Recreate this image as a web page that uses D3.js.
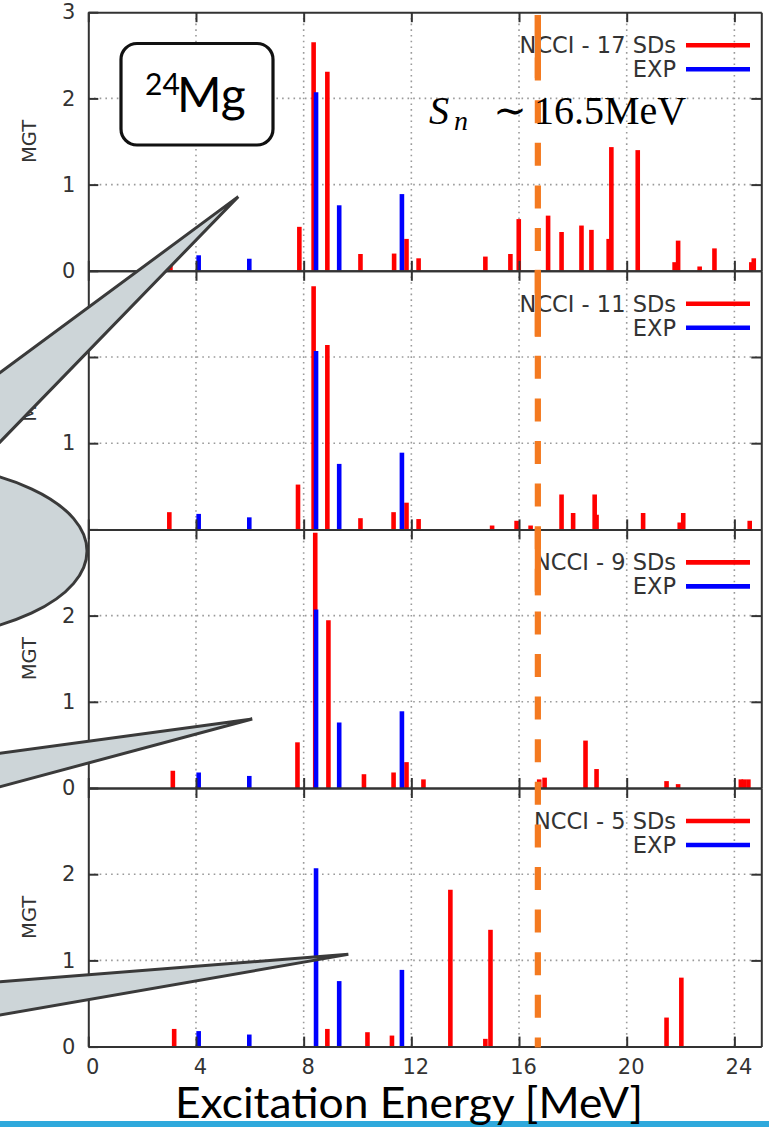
<!DOCTYPE html>
<html>
<head>
<meta charset="utf-8">
<script src="https://cdn.jsdelivr.net/npm/d3@7"></script>
<style>
  html, body { margin: 0; padding: 0; background: #ffffff; }
  svg { display: block; }
</style>
</head>
<body>
<svg id="chart" width="769" height="1127"></svg>
<script>
// ---- data -------------------------------------------------------------
const energyDomain = [0, 25];
const mgtDomain = [0, 3];
const energyTicks = [0, 4, 8, 12, 16, 20, 24];
const gridEnergies = [4, 8, 12, 16, 20, 24];
const gridMGT = [1, 2];

const seriesLabels = ["NCCI - 17 SDs", "NCCI - 11 SDs", "NCCI - 9 SDs", "NCCI - 5 SDs"];
const expLabel = "EXP";

// measured Gamow-Teller strengths
const expEnergy = [4.10, 5.98, 8.46, 9.32, 11.65];
const expMGT    = [0.18, 0.14, 2.07, 0.76, 0.89];

// NCCI with 17 Slater determinants
const ncci17Energy = [3.05, 7.84, 8.37, 8.88, 10.11, 11.36, 11.82, 12.27, 14.75, 15.68, 15.99,
                      17.08, 17.58, 18.32, 18.69, 19.33, 19.43, 20.41, 21.78, 21.91, 22.71,
                      23.26, 24.63, 24.72];
const ncci17MGT    = [0.20, 0.51, 2.65, 2.31, 0.195, 0.20, 0.37, 0.145, 0.165, 0.195, 0.60,
                      0.64, 0.45, 0.525, 0.475, 0.37, 1.435, 1.40, 0.10, 0.35, 0.05,
                      0.26, 0.10, 0.145];

// NCCI with 11 Slater determinants
const ncci11Energy = [3.01, 7.79, 8.37, 8.88, 10.11, 11.34, 11.82, 12.27, 15.00, 15.91, 16.43,
                      17.58, 18.01, 18.81, 18.88, 20.61, 21.97, 22.10, 24.57];
const ncci11MGT    = [0.20, 0.52, 2.82, 2.14, 0.13, 0.20, 0.31, 0.12, 0.045, 0.10, 0.045,
                      0.405, 0.19, 0.405, 0.17, 0.19, 0.08, 0.19, 0.10];

// NCCI with 9 Slater determinants
const ncci9Energy = [3.14, 7.77, 8.43, 8.92, 10.24, 11.34, 11.82, 12.45, 16.75, 16.95,
                     18.47, 18.88, 21.48, 21.91, 24.24, 24.35, 24.52];
const ncci9MGT    = [0.20, 0.53, 2.96, 1.945, 0.16, 0.18, 0.30, 0.10, 0.10, 0.12,
                     0.55, 0.22, 0.08, 0.045, 0.10, 0.10, 0.10];

// NCCI with 5 Slater determinants
const ncci5Energy = [3.19, 8.88, 10.37, 11.28, 13.45, 14.75, 14.94, 21.48, 22.03];
const ncci5MGT    = [0.205, 0.205, 0.167, 0.128, 1.82, 0.09, 1.355, 0.337, 0.80];

// neutron separation energy marker
const snEnergy = 16.7;

// ---- layout -----------------------------------------------------------
const plotLeft = 88.3, plotRight = 761.3;
const firstTop = 12.2, panelH = 258.6;
const tickLen = 10;
const frameColor = "#333333";
const textColor = "#333333";
const redColor = "#ff0000", blueColor = "#0000ff";
const axisFont = "'DejaVu Sans', Verdana, sans-serif";

const svg = d3.select("#chart");
svg.append("rect").attr("width", 769).attr("height", 1127).attr("fill", "#ffffff");

const x = d3.scaleLinear().domain(energyDomain).range([plotLeft, plotRight]);

const panels = [
  { label: seriesLabels[0], energy: ncci17Energy, mgt: ncci17MGT, yTicks: [0, 1, 2, 3] },
  { label: seriesLabels[1], energy: ncci11Energy, mgt: ncci11MGT, yTicks: [0, 1, 2] },
  { label: seriesLabels[2], energy: ncci9Energy,  mgt: ncci9MGT,  yTicks: [0, 1, 2] },
  { label: seriesLabels[3], energy: ncci5Energy,  mgt: ncci5MGT,  yTicks: [0, 1, 2] }
];

const panelScales = [];

panels.forEach((p, i) => {
  const top = firstTop + i * panelH;
  const bottom = top + panelH;
  const y = d3.scaleLinear().domain(mgtDomain).range([bottom, top]);
  panelScales.push(y);
  const g = svg.append("g").attr("class", "panel");

  // dotted grid
  g.selectAll("line.vgrid").data(gridEnergies).join("line")
    .attr("x1", d => x(d)).attr("x2", d => x(d))
    .attr("y1", top).attr("y2", bottom)
    .attr("stroke", "#9a9a9a").attr("stroke-width", 1.6)
    .attr("stroke-dasharray", "1.6,4.1");
  g.selectAll("line.hgrid").data(gridMGT).join("line")
    .attr("x1", plotLeft).attr("x2", plotRight)
    .attr("y1", d => y(d)).attr("y2", d => y(d))
    .attr("stroke", "#9a9a9a").attr("stroke-width", 1.6)
    .attr("stroke-dasharray", "1.6,4.1");

  // NCCI impulses
  const calc = p.energy.map((e, k) => ({ e, v: p.mgt[k] }));
  g.selectAll("line.calc").data(calc).join("line")
    .attr("x1", d => x(d.e)).attr("x2", d => x(d.e))
    .attr("y1", y(0)).attr("y2", d => y(d.v))
    .attr("stroke", redColor).attr("stroke-width", 4.6);

  // experimental impulses
  const exp = expEnergy.map((e, k) => ({ e, v: expMGT[k] }));
  g.selectAll("line.exp").data(exp).join("line")
    .attr("x1", d => x(d.e)).attr("x2", d => x(d.e))
    .attr("y1", y(0)).attr("y2", d => y(d.v))
    .attr("stroke", blueColor).attr("stroke-width", 4.6);

  // axes with inward ticks
  const styleAxis = sel => {
    sel.selectAll("path.domain").attr("stroke", frameColor).attr("stroke-width", 2);
    sel.selectAll(".tick line").attr("stroke", frameColor).attr("stroke-width", 2);
    sel.selectAll(".tick text").attr("fill", textColor)
      .style("font-family", axisFont).style("font-size", "21px");
  };

  const isBottom = i === panels.length - 1;
  const bottomAxis = d3.axisBottom(x).tickValues(energyTicks).tickSize(-tickLen).tickSizeOuter(0)
    .tickPadding(12).tickFormat(isBottom ? d3.format("d") : () => "");
  g.append("g").attr("transform", `translate(0,${bottom})`).call(bottomAxis).call(styleAxis)
    .selectAll(".tick text").attr("dx", 4);

  const topAxis = d3.axisTop(x).tickValues(energyTicks).tickSize(-tickLen).tickSizeOuter(0)
    .tickFormat(() => "");
  g.append("g").attr("transform", `translate(0,${top})`).call(topAxis).call(styleAxis);

  const leftAxis = d3.axisLeft(y).tickValues(p.yTicks).tickSize(-tickLen).tickSizeOuter(0)
    .tickPadding(13).tickFormat(d3.format("d"));
  g.append("g").attr("transform", `translate(${plotLeft},0)`).call(leftAxis).call(styleAxis);

  const rightAxis = d3.axisRight(y).tickValues(gridMGT).tickSize(-tickLen).tickSizeOuter(0)
    .tickFormat(() => "");
  g.append("g").attr("transform", `translate(${plotRight},0)`).call(rightAxis).call(styleAxis);

  // y axis title
  g.append("text")
    .attr("transform", `translate(29,${(top + bottom) / 2}) rotate(-90)`)
    .attr("text-anchor", "middle").attr("dominant-baseline", "central")
    .attr("fill", textColor)
    .style("font-family", axisFont).style("font-size", "19.5px")
    .text("MGT");

  // legend
  const legendRows = [
    { text: p.label, color: redColor, dy: 33 },
    { text: expLabel, color: blueColor, dy: 57 }
  ];
  const lg = g.append("g");
  lg.selectAll("text").data(legendRows).join("text")
    .attr("x", 676).attr("y", d => top + d.dy)
    .attr("text-anchor", "end").attr("dominant-baseline", "central")
    .attr("fill", textColor)
    .style("font-family", axisFont).style("font-size", "22.5px")
    .text(d => d.text);
  lg.selectAll("line").data(legendRows).join("line")
    .attr("x1", 686).attr("x2", 750)
    .attr("y1", d => top + d.dy).attr("y2", d => top + d.dy)
    .attr("stroke", d => d.color).attr("stroke-width", 4.6);
});

// ---- neutron separation threshold --------------------------------------
const firstPanelTop = firstTop;
const lastPanelBottom = firstTop + panels.length * panelH;
const sx = x(snEnergy);
const orange = "#f47a20";
svg.append("line")
  .attr("x1", sx).attr("x2", sx)
  .attr("y1", firstPanelTop + 2.8).attr("y2", lastPanelBottom + 1)
  .attr("stroke", orange).attr("stroke-width", 6.2)
  .attr("stroke-dasharray", "23,19.6");
svg.selectAll("line.snlead").data(d3.range(panels.length - 1)).join("line")
  .attr("x1", sx).attr("x2", sx)
  .attr("y1", i => firstTop + i * panelH + (i === 0 ? 2.8 : -1))
  .attr("y2", i => firstTop + i * panelH + 66)
  .attr("stroke", orange).attr("stroke-width", 6.2);

// S_n label, typeset piecewise for TeX-like spacing
const serif = "'Liberation Serif', 'DejaVu Serif', serif";
const snLabel = svg.append("g").attr("fill", "#000").style("font-family", serif);
snLabel.append("text").attr("x", 429).attr("y", 124)
  .style("font-style", "italic").style("font-size", "40px").text("S");
snLabel.append("text").attr("x", 454).attr("y", 130)
  .style("font-style", "italic").style("font-size", "28px").text("n");
snLabel.append("text").attr("x", 510).attr("y", 124).attr("text-anchor", "middle")
  .style("font-size", "40px").text("\u223C");
snLabel.append("text").attr("x", 534).attr("y", 124)
  .style("font-size", "40px").text("16.5MeV");

// ---- nucleus label ------------------------------------------------------
const slideFont = "Lato, 'Open Sans', sans-serif";
svg.append("rect")
  .attr("x", 121).attr("y", 43.5).attr("width", 152).attr("height", 101.5)
  .attr("rx", 16).attr("ry", 16)
  .attr("fill", "#ffffff").attr("stroke", "#111111").attr("stroke-width", 3.2);
svg.append("text").attr("x", 145).attr("y", 95)
  .style("font-family", slideFont).style("font-size", "30px").attr("fill", "#000")
  .text("24");
svg.append("text").attr("x", 177).attr("y", 112)
  .style("font-family", slideFont).style("font-size", "48px").attr("fill", "#000")
  .text("Mg");

// ---- speech-bubble callouts --------------------------------------------
const bubbleFill = "#cdd5d8", bubbleStroke = "#3a3a3a";
// tails: tip given in data coordinates of a panel, base on the page's left edge
const tails = [
  { panel: 0, e: 5.57, v: 0.86, yUpper: 372.7, yLower: 442.0 },
  { panel: 2, e: 6.09, v: 0.80, yUpper: 753.3, yLower: 786.7 },
  { panel: 3, e: 9.66, v: 1.07, yUpper: 981.7, yLower: 1015.0 }
];
const tailPath = t => {
  const tx = x(t.e), ty = panelScales[t.panel](t.v);
  const ext = -30;
  const yu = t.yUpper + (t.yUpper - ty) * (-ext) / tx;
  const yl = t.yLower + (t.yLower - ty) * (-ext) / tx;
  return `M${tx},${ty} L${ext},${yu} L${ext},${yl} Z`;
};
svg.append("ellipse")
  .attr("cx", -103).attr("cy", 551).attr("rx", 190).attr("ry", 88)
  .attr("fill", bubbleFill).attr("stroke", bubbleStroke).attr("stroke-width", 3);
svg.selectAll("path.tail").data(tails).join("path")
  .attr("d", tailPath)
  .attr("fill", bubbleFill).attr("stroke", bubbleStroke).attr("stroke-width", 3)
  .attr("stroke-linejoin", "miter");

// ---- footer ---------------------------------------------------------------
svg.append("rect").attr("x", 0).attr("y", 1121).attr("width", 769).attr("height", 6)
  .attr("fill", "#2fa9dc");
svg.append("text").attr("x", 175).attr("y", 1118)
  .attr("textLength", 468).attr("lengthAdjust", "spacingAndGlyphs")
  .style("font-family", slideFont).style("font-size", "43px").attr("fill", "#000")
  .text("Excitation Energy [MeV]");
</script>
</body>
</html>
